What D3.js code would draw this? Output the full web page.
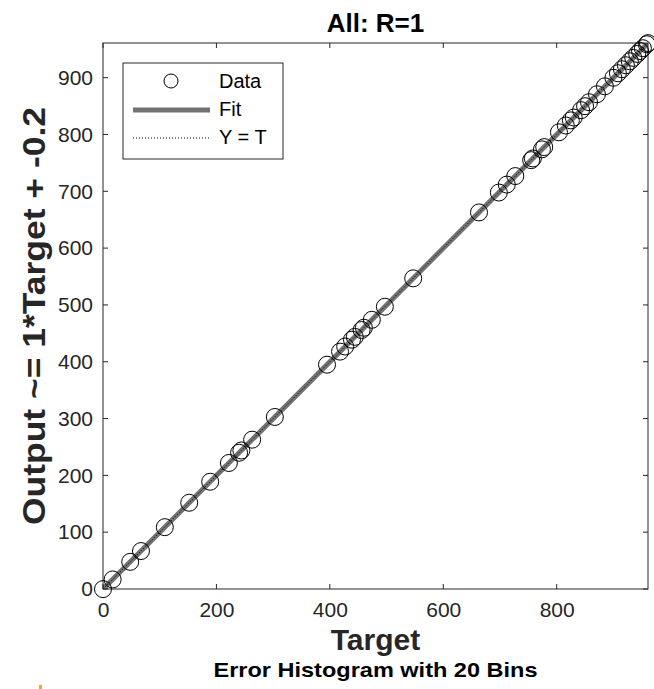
<!DOCTYPE html>
<html>
<head>
<meta charset="utf-8">
<script src="https://cdn.jsdelivr.net/npm/d3@7"></script>
<style>
  body { margin: 0; background: #fff; }
  text { font-family: "Liberation Sans", Arial, Helvetica, sans-serif; }
</style>
</head>
<body>
<div id="chart"></div>
<script>
// regression plot: targets vs network output
const targets = [0, 17, 48, 67, 109, 152, 189, 222, 240, 244, 263, 303, 395, 418, 427, 439, 444, 456, 460, 474, 497,
  547, 663, 698, 712, 727, 755, 758, 774, 778, 804, 816, 825, 830, 843, 850, 857, 871, 885, 900, 908, 915,
  922, 929, 935, 942, 947, 952, 959, 961];
const slope = 1;
const intercept = -0.2;
const outputs = targets.map(t => t * slope + intercept);
const xTicks = [0, 200, 400, 600, 800];
const yTicks = [0, 100, 200, 300, 400, 500, 600, 700, 800, 900];
const domainMax = 961;

const width = 654;
const height = 689;
const margin = { top: 43, right: 6, bottom: 100, left: 103 };
const plotW = width - margin.left - margin.right;
const plotH = height - margin.top - margin.bottom;

const svg = d3.select('#chart')
  .append('svg')
  .attr('width', width)
  .attr('height', height);

const chart = svg.append('g')
  .attr('transform', `translate(${margin.left},${margin.top})`);

const xScale = d3.scaleLinear().domain([0, domainMax]).range([0, plotW]);
const yScale = d3.scaleLinear().domain([0, domainMax]).range([plotH, 0]);

const axisColor = '#262626';

// clip region for the lines
svg.append('clipPath').attr('id', 'clip')
  .append('rect').attr('width', plotW).attr('height', plotH);

const plotArea = chart.append('g').attr('clip-path', 'url(#clip)');

// fit line
const line = d3.line().x(d => xScale(d[0])).y(d => yScale(d[1]));
plotArea.append('path')
  .datum([[0, intercept], [domainMax, domainMax * slope + intercept]])
  .attr('d', line)
  .attr('fill', 'none')
  .attr('stroke', '#727272')
  .attr('stroke-width', 5);

// Y = T
plotArea.append('path')
  .datum([[0, 0], [domainMax, domainMax]])
  .attr('d', line)
  .attr('fill', 'none')
  .attr('stroke', '#000')
  .attr('stroke-width', 1)
  .attr('stroke-dasharray', '1,2');

// axes
const xAxis = d3.axisBottom(xScale).tickValues(xTicks).tickSize(0).tickPadding(13);
const yAxis = d3.axisLeft(yScale).tickValues(yTicks).tickSize(0).tickPadding(10);

const gx = chart.append('g').attr('transform', `translate(0,${plotH})`).call(xAxis);
const gy = chart.append('g').call(yAxis);
[gx, gy].forEach(g => {
  g.select('.domain').remove();
  g.selectAll('text').attr('fill', axisColor).style('font-size', '21px');
});

// inward ticks on all four sides
const tickLen = 5;
chart.selectAll('.xt').data(xTicks).enter().append('line')
  .attr('x1', d => xScale(d)).attr('x2', d => xScale(d))
  .attr('y1', plotH).attr('y2', plotH - tickLen)
  .attr('stroke', axisColor);
chart.selectAll('.xt2').data(xTicks).enter().append('line')
  .attr('x1', d => xScale(d)).attr('x2', d => xScale(d))
  .attr('y1', 0).attr('y2', tickLen)
  .attr('stroke', axisColor);
chart.selectAll('.yt').data(yTicks).enter().append('line')
  .attr('x1', 0).attr('x2', tickLen)
  .attr('y1', d => yScale(d)).attr('y2', d => yScale(d))
  .attr('stroke', axisColor);
chart.selectAll('.yt2').data(yTicks).enter().append('line')
  .attr('x1', plotW).attr('x2', plotW - tickLen)
  .attr('y1', d => yScale(d)).attr('y2', d => yScale(d))
  .attr('stroke', axisColor);

chart.append('rect')
  .attr('width', plotW).attr('height', plotH)
  .attr('fill', 'none')
  .attr('stroke', axisColor)
  .attr('stroke-width', 1);

// data circles (not clipped, they spill over the corner)
chart.selectAll('.pt')
  .data(targets)
  .enter()
  .append('circle')
  .classed('pt', true)
  .attr('cx', (d, i) => xScale(d))
  .attr('cy', (d, i) => yScale(outputs[i]))
  .attr('r', 8.5)
  .attr('fill', 'none')
  .attr('stroke', '#000')
  .attr('stroke-width', 1);

// title and labels
svg.append('text')
  .attr('x', margin.left + plotW / 2).attr('y', 32)
  .attr('text-anchor', 'middle')
  .style('font-size', '26px').style('font-weight', 'bold')
  .text('All: R=1');

svg.append('text')
  .attr('transform', `translate(45,${margin.top + plotH / 2}) rotate(-90)`)
  .attr('text-anchor', 'middle')
  .attr('fill', axisColor)
  .attr('textLength', 418)
  .attr('lengthAdjust', 'spacingAndGlyphs')
  .style('font-size', '31px').style('font-weight', 'bold')
  .text('Output ~= 1*Target + -0.2');

svg.append('text')
  .attr('x', margin.left + plotW / 2).attr('y', 650)
  .attr('text-anchor', 'middle')
  .attr('fill', axisColor)
  .style('font-size', '30px').style('font-weight', 'bold')
  .text('Target');

svg.append('text')
  .attr('x', margin.left + plotW / 2).attr('y', 677)
  .attr('text-anchor', 'middle')
  .attr('textLength', 324)
  .attr('lengthAdjust', 'spacingAndGlyphs')
  .style('font-size', '21px').style('font-weight', 'bold')
  .text('Error Histogram with 20 Bins');

svg.append('rect')
  .attr('x', 39).attr('y', 685).attr('width', 3).attr('height', 4)
  .attr('fill', '#f5a623');

// legend
const legend = svg.append('g').attr('transform', 'translate(123,63)');
legend.append('rect')
  .attr('width', 160).attr('height', 96)
  .attr('fill', '#fff').attr('stroke', axisColor);
legend.append('circle')
  .attr('cx', 48).attr('cy', 18).attr('r', 7)
  .attr('fill', 'none').attr('stroke', '#000');
legend.append('line')
  .attr('x1', 10).attr('x2', 87).attr('y1', 47).attr('y2', 47)
  .attr('stroke', '#727272').attr('stroke-width', 5);
legend.append('line')
  .attr('x1', 10).attr('x2', 87).attr('y1', 75).attr('y2', 75)
  .attr('stroke', '#000').attr('stroke-width', 1).attr('stroke-dasharray', '1,2');
const legendLabels = ['Data', 'Fit', 'Y = T'];
legend.selectAll('.lt').data(legendLabels).enter().append('text')
  .attr('x', 96).attr('y', (d, i) => 25 + i * 28)
  .style('font-size', '20px')
  .text(d => d);
</script>
</body>
</html>
